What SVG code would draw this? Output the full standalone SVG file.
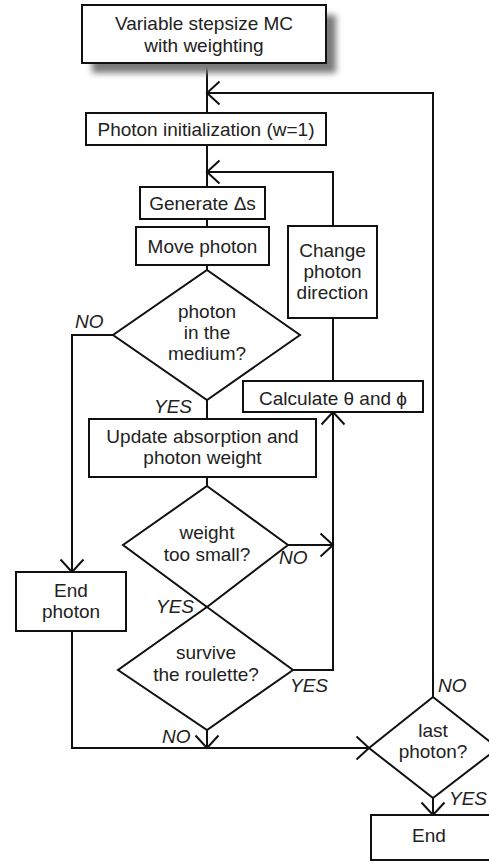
<svg xmlns="http://www.w3.org/2000/svg" width="489" height="861" viewBox="0 0 489 861">
  <style>
    .box { fill: #ffffff; stroke: #111111; stroke-width: 2; }
    .dec { fill: #ffffff; stroke: #111111; stroke-width: 2; stroke-linejoin: miter; }
    .wire { fill: none; stroke: #111111; stroke-width: 2; }
    .arrowed { marker-end: url(#open-head); }
    text { font-family: "Liberation Sans", Arial, Helvetica, sans-serif; font-size: 19px; fill: #222222; text-anchor: middle; }
    .lbl { font-style: italic; text-anchor: start; }
  </style>
  <defs>
    <marker id="open-head" markerUnits="userSpaceOnUse" viewBox="-14 -13 16 26" refX="0" refY="0" markerWidth="16" markerHeight="26" orient="auto" overflow="visible">
      <path d="M -12.5 -11.5 L 0 0 L -12.5 11.5" fill="none" stroke="#111111" stroke-width="2"/>
    </marker>
    <filter id="soft-shadow" x="-20%" y="-30%" width="140%" height="160%">
      <feGaussianBlur stdDeviation="3"/>
    </filter>
  </defs>

  <rect width="489" height="861" fill="#ffffff"/>

  <!-- connectors -->
  <g id="connectors">
    <path class="wire" d="M207,63 V113"/>
    <path class="wire" d="M207,145 V187"/>
    <path class="wire" d="M207,219 V227"/>
    <path class="wire" d="M207,265 V270"/>
    <path class="wire" d="M207,400 V419"/>
    <path class="wire" d="M207,477 V486"/>
    <path class="wire" d="M333,381 V318"/>
    <path class="wire arrowed" d="M433,697 V93 H207"/>
    <path class="wire arrowed" d="M333,226 V172 H207"/>
    <path class="wire arrowed" d="M113,335 H72 V572"/>
    <path class="wire arrowed" d="M288,545 H333"/>
    <path class="wire arrowed" d="M293,670 H333 V412"/>
    <path class="wire arrowed" d="M207,730 V748"/>
    <path class="wire arrowed" d="M72,631 V748 H369"/>
    <path class="wire arrowed" d="M433,798 V815"/>
  </g>

  <!-- start -->
  <g id="start">
    <rect x="92" y="15" width="244" height="58" fill="#7a7a7a" filter="url(#soft-shadow)"/>
    <rect class="box" x="82" y="5" width="244" height="58"/>
    <text x="204" y="30">Variable stepsize MC</text>
    <text x="204" y="52">with weighting</text>
  </g>

  <g id="init">
    <rect class="box" x="86" y="113" width="240" height="32"/>
    <text x="206" y="136">Photon initialization (w=1)</text>
  </g>

  <g id="generate">
    <rect class="box" x="140" y="187" width="125" height="32"/>
    <text x="202.5" y="210">Generate Δs</text>
  </g>

  <g id="move">
    <rect class="box" x="136" y="227" width="133" height="38"/>
    <text x="202.5" y="253">Move photon</text>
  </g>

  <g id="in-medium">
    <polygon class="dec" points="207,270 300,335 207,400 113,335"/>
    <text x="207" y="318">photon</text>
    <text x="207" y="339">in the</text>
    <text x="207" y="360">medium?</text>
  </g>

  <g id="change-direction">
    <rect class="box" x="288" y="226" width="89" height="92"/>
    <text x="332.5" y="257">Change</text>
    <text x="332.5" y="278">photon</text>
    <text x="332.5" y="299">direction</text>
  </g>

  <g id="calculate">
    <rect class="box" x="243" y="381" width="180" height="31"/>
    <text x="333" y="405">Calculate θ and ϕ</text>
  </g>

  <g id="update">
    <rect class="box" x="89" y="419" width="227" height="58"/>
    <text x="202.5" y="443">Update absorption and</text>
    <text x="202.5" y="464">photon weight</text>
  </g>

  <g id="weight-small">
    <polygon class="dec" points="207,486 288,545 207,607 123,545"/>
    <text x="207" y="539">weight</text>
    <text x="207" y="561">too small?</text>
  </g>

  <g id="end-photon">
    <rect class="box" x="16" y="572" width="110" height="59"/>
    <text x="71" y="597">End</text>
    <text x="71" y="618">photon</text>
  </g>

  <g id="roulette">
    <polygon class="dec" points="207,607 293,670 207,730 118,670"/>
    <text x="206" y="659">survive</text>
    <text x="206" y="681">the roulette?</text>
  </g>

  <g id="last-photon">
    <polygon class="dec" points="433,697 498,748 433,798 369,748"/>
    <text x="433" y="737">last</text>
    <text x="433" y="758">photon?</text>
  </g>

  <g id="end">
    <rect class="box" x="371" y="815" width="125" height="45"/>
    <text x="429" y="842">End</text>
  </g>

  <!-- branch labels -->
  <g id="labels">
    <text class="lbl" x="75" y="328">NO</text>
    <text class="lbl" x="154" y="413">YES</text>
    <text class="lbl" x="279" y="564">NO</text>
    <text class="lbl" x="156" y="613">YES</text>
    <text class="lbl" x="290" y="692">YES</text>
    <text class="lbl" x="162" y="743">NO</text>
    <text class="lbl" x="438" y="692">NO</text>
    <text class="lbl" x="449" y="805">YES</text>
  </g>
</svg>
